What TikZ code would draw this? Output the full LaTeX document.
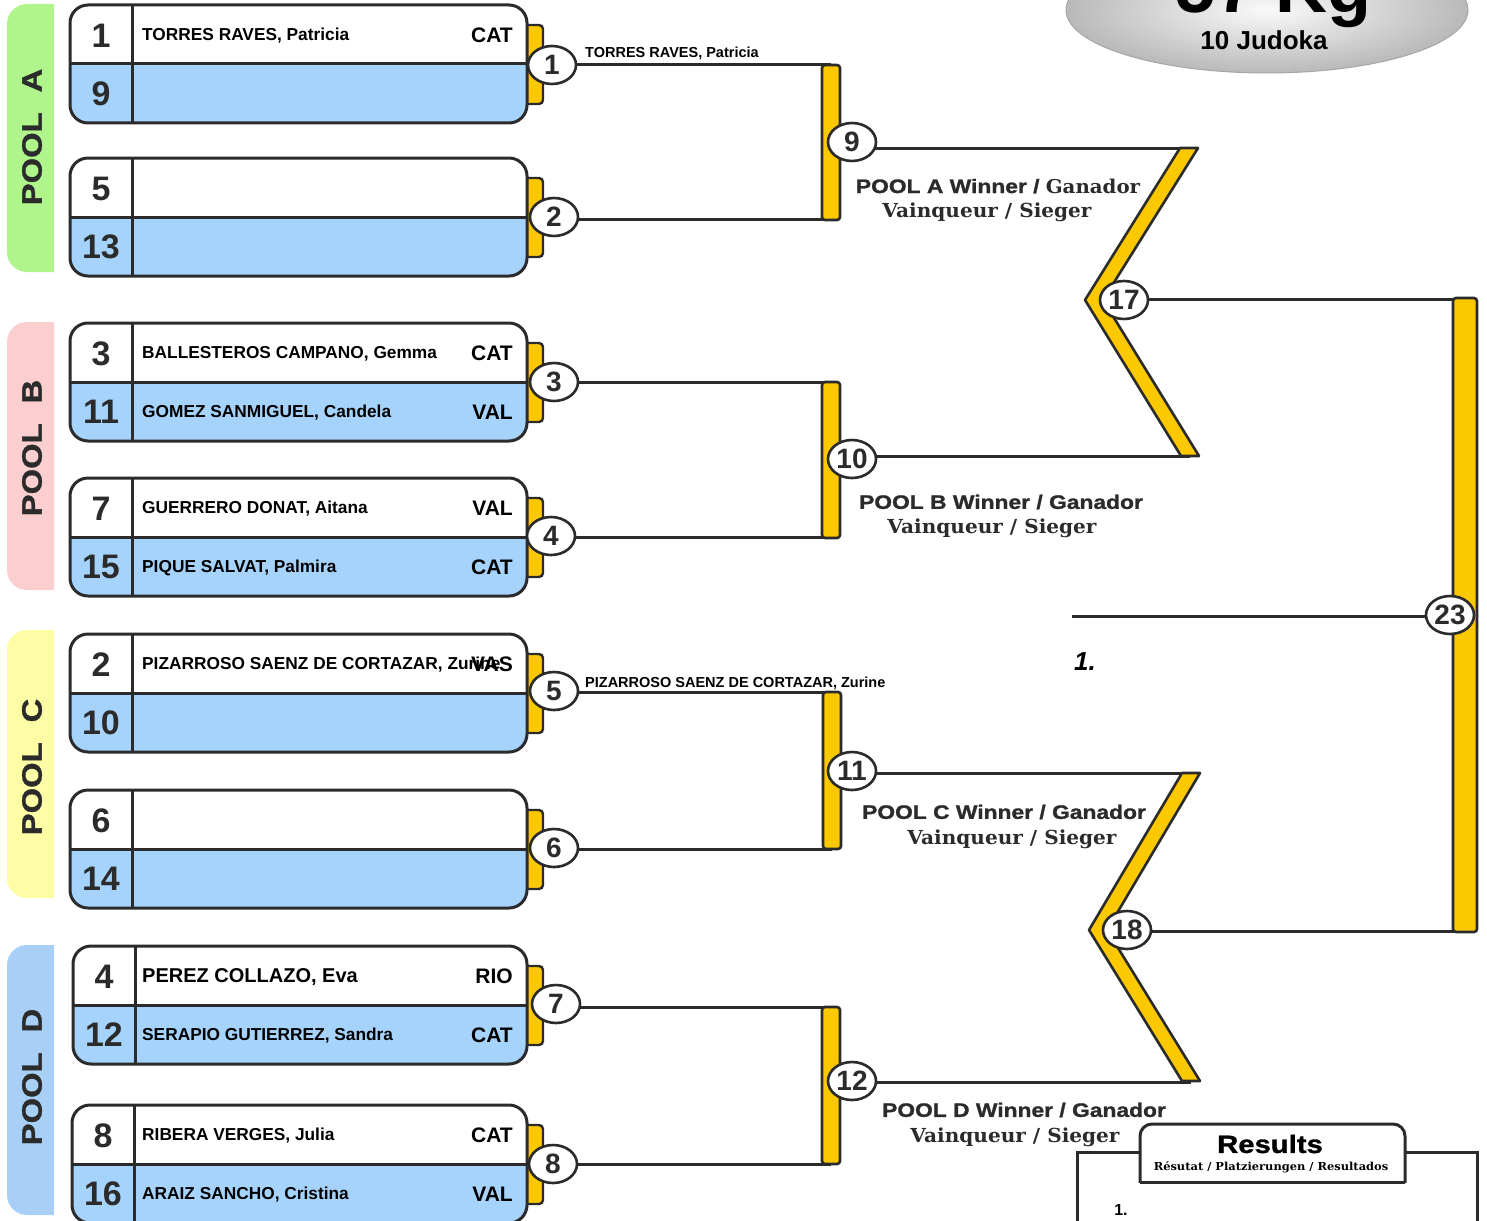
\documentclass[tikz,border=0pt]{standalone}
\usepackage{fontspec}
\setmainfont{Liberation Sans}
\newfontfamily\serifb{DejaVu Serif}[FakeStretch=1.04]
\newfontfamily\heavy{Liberation Sans}[FakeBold=1.2,FakeStretch=1.17]
\usetikzlibrary{shapes.geometric}
\definecolor{dk}{HTML}{2B2B2B}
\definecolor{bl}{HTML}{A6D3FC}
\definecolor{yl}{HTML}{FCC800}
\definecolor{pa}{HTML}{B0F58C}
\definecolor{pb}{HTML}{FBCFD0}
\definecolor{pc}{HTML}{FDFDA6}
\definecolor{pd}{HTML}{A8D0F6}
\pgfdeclarelayer{bg}
\pgfsetlayers{bg,main}
\newcommand\fs[1]{\fontsize{#1}{#1}\selectfont}
% #1 id, #2 ytop, #3 xleft, #4 n1, #5 name1, #6 cty1, #7 n2, #8 name2, #9 cty2
\newcommand\pairbox[9]{%
  \draw[fill=yl,draw=dk,line width=2.4,rounded corners=4] (505,#2+20) rectangle (543,#2+99);
  \begin{scope}
    \clip[rounded corners=18] (#3,#2) rectangle (527,#2+118);
    \fill[white] (#3,#2) rectangle (527,#2+59);
    \fill[bl] (#3,#2+59) rectangle (527,#2+118);
  \end{scope}
  \draw[dk,line width=3,rounded corners=18] (#3,#2) rectangle (527,#2+118);
  \draw[dk,line width=3] (#3,#2+59) -- (527,#2+59);
  \draw[dk,line width=3] (#3+62,#2) -- (#3+62,#2+118);
  \node[numst] (#1na) at (#3+31,#2+31) {#4};
  \node[numst] (#1nb) at (#3+31,#2+89) {#7};
  \node[namest] (#1ma) at (142,#2+31) {#5};
  \node[namest] (#1mb) at (142,#2+90) {#8};
  \node[ctyst] (#1ca) at (513,#2+30) {#6};
  \node[ctyst] (#1cb) at (513,#2+89) {#9};
}
\begin{document}
\begin{tikzpicture}[x=1pt,y=-1pt,
  ln/.style={draw=dk,line width=3},
  barst/.style={fill=yl,draw=dk,line width=2.6,rounded corners=3},
  circ/.style={ellipse,draw=dk,line width=2.6,fill=white,minimum width=48,minimum height=38,inner sep=0pt,font=\fs{28}\bfseries,text=dk},
  numst/.style={font=\fs{34}\bfseries,text=dk,inner sep=0pt},
  namest/.style={anchor=west,font=\fs{17.3}\bfseries,inner sep=0pt},
  ctyst/.style={anchor=east,font=\fs{21}\bfseries,inner sep=0pt},
  poolst/.style={rotate=90,font=\heavy\fs{28}\bfseries,text=dk,inner sep=0pt},
  winst/.style={font=\heavy\fs{19.5}\bfseries,text=dk,inner sep=0pt},
  vainst/.style={font=\serifb\fs{19.3}\bfseries,text=dk,inner sep=0pt},
  smallst/.style={anchor=west,font=\fs{14.5}\bfseries,inner sep=0pt}
]
\useasboundingbox (0,0) rectangle (1487,1220);
\begin{pgfonlayer}{bg}
\fill[white] (0,0) rectangle (1487,1220);
\end{pgfonlayer}

% title ellipse
\shade[inner color=white!96!gray,outer color=gray!55] (1267,10) ellipse [x radius=201, y radius=63];
\draw[gray!70,line width=1] (1267,10) ellipse [x radius=201, y radius=63];
\node[anchor=base,font=\fs{72}\bfseries,inner sep=0pt] (ttl) at (1262,13) {-57 Kg};
\node[font=\fs{26}\bfseries,inner sep=0pt] (jud) at (1264,40) {10 Judoka};

% pool tabs
\begin{scope}
  \clip (0,0) rectangle (54,1220);
  \fill[pa,rounded corners=20] (7,4) rectangle (90,272);
  \fill[pb,rounded corners=20] (7,322) rectangle (90,590);
  \fill[pc,rounded corners=20] (7,630) rectangle (90,898);
  \fill[pd,rounded corners=20] (7,945) rectangle (90,1215);
\end{scope}
\node[poolst] (poolA) at (32,137) {POOL\hspace{20pt}A};
\node[poolst] (poolB) at (32,448) {POOL\hspace{20pt}B};
\node[poolst] (poolC) at (32,767) {POOL\hspace{20pt}C};
\node[poolst] (poolD) at (32,1077) {POOL\hspace{20pt}D};

% boxes
\pairbox{pA}{5}{70}{1}{TORRES RAVES, Patricia}{CAT}{9}{}{}
\pairbox{pB}{158}{70}{5}{}{}{13}{}{}
\pairbox{pC}{323}{70}{3}{BALLESTEROS CAMPANO, Gemma}{CAT}{11}{GOMEZ SANMIGUEL, Candela}{VAL}
\pairbox{pD}{478}{70}{7}{GUERRERO DONAT, Aitana}{VAL}{15}{PIQUE SALVAT, Palmira}{CAT}
\pairbox{pE}{634}{70}{2}{PIZARROSO SAENZ DE CORTAZAR, Zurine}{VAS}{10}{}{}
\pairbox{pF}{790}{70}{6}{}{}{14}{}{}
\pairbox{pG}{946}{73}{4}{\fs{20}PEREZ COLLAZO, Eva}{RIO}{12}{SERAPIO GUTIERREZ, Sandra}{CAT}
\pairbox{pH}{1105}{72}{8}{RIBERA VERGES, Julia}{CAT}{16}{ARAIZ SANCHO, Cristina}{VAL}

% bars
\draw[barst] (822,65) rectangle (840,220);
\draw[barst] (822,382) rectangle (840,538);
\draw[barst] (823,692) rectangle (841,849);
\draw[barst] (822,1007) rectangle (840,1164);
\draw[barst] (1453,298) rectangle (1477,932);

% chevrons
\draw[fill=yl,draw=dk,line width=2.6,line join=round] (1180,148) -- (1198,148) -- (1103,300) -- (1199,456) -- (1181,456) -- (1085,300) -- cycle;
\draw[fill=yl,draw=dk,line width=2.6,line join=round] (1182,773) -- (1200,773) -- (1107,930) -- (1200,1081) -- (1182,1081) -- (1089,930) -- cycle;

% circles
\node[circ] (c1) at (552,65) {1};
\node[circ] (c2) at (554,217) {2};
\node[circ] (c3) at (554,382) {3};
\node[circ] (c4) at (551,536) {4};
\node[circ] (c5) at (554,691) {5};
\node[circ] (c6) at (554,848) {6};
\node[circ] (c7) at (556,1004) {7};
\node[circ] (c8) at (553,1164) {8};
\node[circ] (c9) at (852,142) {9};
\node[circ] (c10) at (852,459) {10};
\node[circ] (c11) at (852,771) {11};
\node[circ] (c12) at (852,1081) {12};
\node[circ] (c17) at (1124,300) {17};
\node[circ] (c18) at (1127,930) {18};
\node[circ] (c23) at (1450,615) {23};

% coordinates
\coordinate (b9t) at (831,65);
\coordinate (b9b) at (831,219);
\coordinate (b10t) at (831,382);
\coordinate (b10b) at (831,537);
\coordinate (b11t) at (832,692);
\coordinate (b11b) at (832,849);
\coordinate (b12t) at (831,1007);
\coordinate (b12b) at (831,1164);
\coordinate (k1t) at (1189,148);
\coordinate (k1b) at (1190,456);
\coordinate (k2t) at (1191,773);
\coordinate (k2b) at (1191,1082);
\coordinate (fbt) at (1470,299);
\coordinate (fbb) at (1470,931);
\coordinate (fin) at (1072,616);

\begin{pgfonlayer}{bg}
  \draw[ln] (c1.center |- b9t) -- (b9t);
  \draw[ln] (c2.center |- b9b) -- (b9b);
  \draw[ln] (c3.center |- b10t) -- (b10t);
  \draw[ln] (c4.center |- b10b) -- (b10b);
  \draw[ln] (c5.center |- b11t) -- (b11t);
  \draw[ln] (c6.center |- b11b) -- (b11b);
  \draw[ln] (c7.center |- b12t) -- (b12t);
  \draw[ln] (c8.center |- b12b) -- (b12b);
  \draw[ln] (c9.center |- k1t) -- (k1t);
  \draw[ln] (c10.center |- k1b) -- (k1b);
  \draw[ln] (c11.center |- k2t) -- (k2t);
  \draw[ln] (c12.center |- k2b) -- (k2b);
  \draw[ln] (c17.center |- fbt) -- (fbt);
  \draw[ln] (c18.center |- fbb) -- (fbb);
  \draw[ln] (fin) -- (c23.center |- fin);
\end{pgfonlayer}

% labels
\node[smallst] (lab1) at (585,53) {TORRES RAVES, Patricia};
\node[smallst] (lab5) at (585,683) {PIZARROSO SAENZ DE CORTAZAR, Zurine};

\node[winst] (wA) at (998,186) {POOL A Winner / {\serifb\fs{19}Ganador}};
\node[vainst] (vA) at (987,212) {Vainqueur / Sieger};
\node[winst] (wB) at (1001,502) {POOL B Winner / Ganador};
\node[vainst] (vB) at (992,528) {Vainqueur / Sieger};
\node[winst] (wC) at (1004,812) {POOL C Winner / Ganador};
\node[vainst] (vC) at (1012,839) {Vainqueur / Sieger};
\node[winst] (wD) at (1024,1110) {POOL D Winner / Ganador};
\node[vainst] (vD) at (1015,1137) {Vainqueur / Sieger};

\node[font=\fs{26}\bfseries\itshape,inner sep=0pt] (first) at (1085,662) {1.};

% results
\draw[dk,line width=3] (1077,1240) -- (1077,1152) -- (1477,1152) -- (1477,1240);
\begin{scope}
  \clip (1100,1100) rectangle (1450,1182);
  \draw[dk,line width=3,fill=white,rounded corners=12] (1140,1124) rectangle (1405,1210);
\end{scope}
\draw[dk,line width=3] (1140,1182) -- (1405,1182);
\node[font=\heavy\fs{25}\bfseries,inner sep=0pt] (res) at (1270,1144) {Results};
\node[font=\serifb\fs{11}\bfseries,inner sep=0pt] (res2) at (1271,1167) {Résutat / Platzierungen / Resultados};
\node[font=\fs{16}\bfseries,inner sep=0pt] (res1) at (1121,1210) {1.};
\end{tikzpicture}
\end{document}
